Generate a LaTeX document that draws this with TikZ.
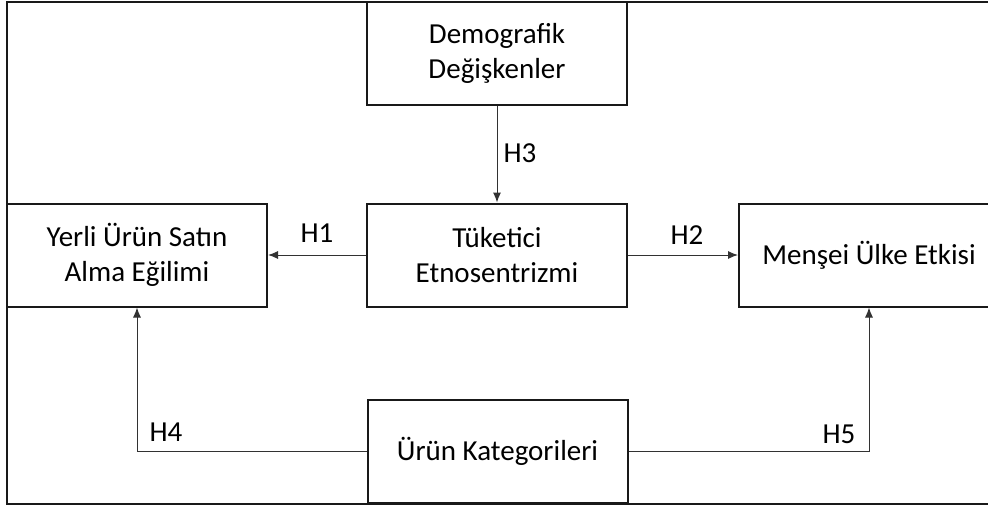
\documentclass[tikz,border=0pt]{standalone}
\usepackage{fontspec}
\setmainfont{Carlito}
\usetikzlibrary{arrows.meta,positioning}
\definecolor{framecol}{RGB}{25,25,25}
\definecolor{linkcol}{RGB}{50,50,50}

\tikzset{
    construct/.style={draw=framecol, line width=2pt, fill=white,
        minimum width=260pt, minimum height=103pt, align=center,
        inner sep=0pt, font=\fontsize{29}{35}\selectfont},
    link/.style={draw=linkcol, line width=1pt, -{Latex[length=10pt,width=8pt]}},
    hyp/.style={inner sep=0pt, font=\fontsize{29}{35}\selectfont}
}

\begin{document}
\begin{tikzpicture}[x=1pt,y=-1pt]
    \useasboundingbox (0,0) rectangle (988,509);

    % Outer frame
    \draw[framecol, line width=2pt] (992,2) -- (7,2) -- (7,504) -- (992,504);

    % Constructs
    \node[construct] (demo) at (497,53.5) {Demografik\\Değişkenler};
    \node[construct] (cons) at (497,255) {Tüketici\\Etnosentrizmi};
    \node[construct] (dom) at (137,255) {Yerli Ürün Satın\\Alma Eğilimi};
    \node[construct] (origin) at (869,255) {Menşei Ülke Etkisi};
    \node[construct] (cat) at (497.5,451) {Ürün Kategorileri};

    % Hypotheses
    \draw[link] (demo) -- (cons);
    \draw[link] (cons) -- (dom);
    \draw[link] (cons) -- (origin);
    \draw[link] (cat.west) -| (dom.south);
    \draw[link] (cat.east) -| (origin.south);

    \node[hyp] (h3) at (520,153) {H3};
    \node[hyp] (h1) at (317,233) {H1};
    \node[hyp] (h2) at (687,235) {H2};
    \node[hyp] (h4) at (166,432) {H4};
    \node[hyp] (h5) at (839,434) {H5};
\end{tikzpicture}
\end{document}
